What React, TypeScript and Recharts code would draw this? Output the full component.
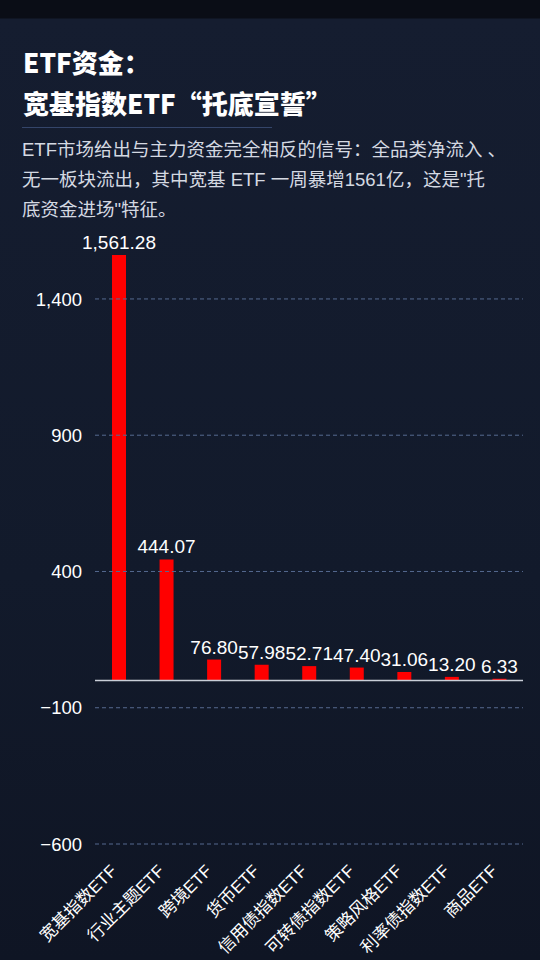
import { BarChart, Bar, XAxis, YAxis, ReferenceLine, LabelList } from "recharts";

const categories = ["宽基指数ETF", "行业主题ETF", "跨境ETF", "货币ETF", "信用债指数ETF", "可转债指数ETF", "策略风格ETF", "利率债指数ETF", "商品ETF"];
const flows = [1561.28, 444.07, 76.8, 57.98, 52.71, 47.4, 31.06, 13.2, 6.33];
const yTicks = [-600, -100, 400, 900, 1400];

const data = categories.map((name, i) => ({ name, value: flows[i] }));

const font = "'Liberation Sans', 'Noto Sans CJK SC', sans-serif";

const fmt = (v: number) =>
  v.toLocaleString("en-US", { minimumFractionDigits: 2, maximumFractionDigits: 2 });

function SlantTick(props: any) {
  const { x, y, payload } = props;
  return (
    <g transform={`translate(${x - 1},${y + 20})`}>
      <text transform="rotate(-45)" textAnchor="end" fill="#ffffff" fontSize={17} fontFamily={font}>
        {payload.value}
      </text>
    </g>
  );
}

export default function App() {
  return (
    <div
      style={{
        position: "absolute",
        left: 0,
        top: 0,
        width: 540,
        height: 960,
        overflow: "hidden",
        background: "linear-gradient(180deg, #0a0d16 0px, #0a0d16 18px, #151d30 19px, #121a2b 60%, #0f1524 100%)",
        fontFamily: font,
      }}
    >
      <div style={{ position: "absolute", left: 23, top: 41, color: "#fff", fontSize: 26, fontWeight: 900, lineHeight: "41px", fontFamily: "'Noto Sans CJK SC', sans-serif" }}>
        <div>ETF资金：</div>
        <div>宽基指数ETF“托底宣誓”</div>
      </div>
      <div style={{ position: "absolute", left: 22, top: 127, width: 250, height: 1, background: "#34456a" }} />
      <div style={{ position: "absolute", left: 22, top: 135, color: "#d4d9e2", fontSize: 18.5, lineHeight: "30px", whiteSpace: "nowrap" }}>
        <div>ETF市场给出与主力资金完全相反的信号：全品类净流入 、</div>
        <div>无一板块流出，其中宽基 ETF 一周暴增1561亿，这是"托</div>
        <div>底资金进场"特征。</div>
      </div>

      <div style={{ position: "absolute", left: 0, top: 230 }}>
        <BarChart width={540} height={730} data={data} margin={{ top: 25, right: 17, left: 0, bottom: 16 }}>
          {yTicks.map((t) => (
            <ReferenceLine key={t} y={t} stroke="#55698f" strokeDasharray="4 3" />
          ))}
          <XAxis dataKey="name" interval={0} axisLine={false} tickLine={false} height={100} tick={<SlantTick />} />
          <YAxis
            width={95}
            domain={[-600, 1561.28]}
            ticks={yTicks}
            allowDataOverflow
            axisLine={false}
            tickLine={false}
            tickMargin={7}
            tick={{ fill: "#ffffff", fontSize: 18.5, fontFamily: font }}
            tickFormatter={(v: number) => (v < 0 ? "−" + Math.abs(v).toLocaleString("en-US") : v.toLocaleString("en-US"))}
          />
          <ReferenceLine y={0} stroke="#c9ced8" strokeWidth={1.5} />
          <Bar dataKey="value" fill="#ff0000" barSize={14} isAnimationActive={false}>
            <LabelList dataKey="value" position="top" offset={6} fill="#ffffff" fontSize={19} fontFamily={font} formatter={(v: any) => fmt(Number(v))} />
          </Bar>
        </BarChart>
      </div>
    </div>
  );
}
